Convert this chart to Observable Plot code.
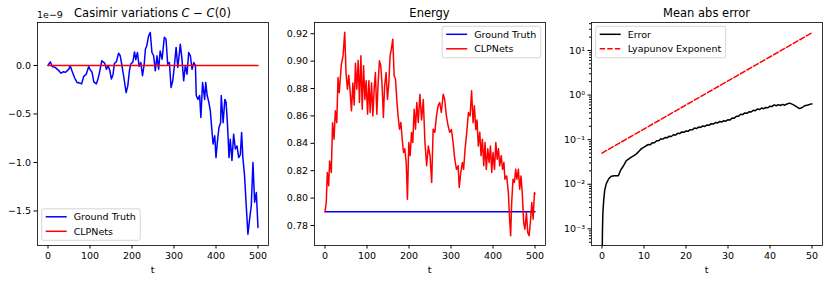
<!DOCTYPE html>
<html><head><meta charset="utf-8">
<script src="https://cdn.jsdelivr.net/npm/d3@7"></script>
<script src="https://cdn.jsdelivr.net/npm/@observablehq/plot@0.6"></script>
<style>
body{margin:0;background:#fff;}
#wrap{display:flex;width:830px;height:282px;overflow:hidden;}
#wrap svg{flex:none;}
</style></head><body><div id="wrap"></div>
<script>
// ---------- Panel 1: Casimir variations (units of 1e-9) ----------
const casimirT = [0,3,5.5,10,17,25,31,36,42,49,53,57,63,69,75,80,85,91,97,100,105,109,115,119,123,128,135,139,143,147,151,155,158,163,168,172,176,180,186,190,194,197,202,206,209,213,217,221,225,229,232,235,239.5,243.5,247.5,251.5,255.5,259.5,263.5,267,271.5,277,281,285,289,293,297,301,305,309,313,315,319,323,327,331,335,339,343,347,351,353,357,361,364,368,373,375.5,379,383,386.5,390,393,397,400,403,407,411,412.5,417,421,424,427.5,431,434,438,442,446,450,454,458,461,464,468,472,476,480,484,488,492,496,500];
const casimirGroundTruth = [0,0.02,0.038,-0.01,-0.02,-0.05,-0.08,-0.065,-0.07,-0.04,-0.005,-0.055,-0.124,-0.175,-0.18,-0.19,-0.113,-0.09,-0.01,-0.04,-0.07,-0.17,-0.19,-0.14,-0.065,0.048,0.024,-0.04,0,-0.05,-0.14,-0.09,0.02,0.04,0.127,0.1,0,-0.106,-0.28,-0.21,-0.05,0.015,0.035,0.14,0.06,0.134,-0.01,0.03,-0.106,0.01,0.17,0.2,0.306,0.34,0.134,0.1,-0.055,0.1,-0.038,0.15,0.065,0.29,0.27,0.013,0.03,-0.227,-0.158,0,0.186,-0.02,0.134,0.22,0.065,-0.158,0,-0.09,0.134,0.1,-0.04,0.03,0,-0.31,-0.35,-0.31,-0.536,-0.175,-0.35,-0.175,-0.31,-0.38,-0.467,-0.656,-0.81,-0.725,-0.95,-0.8,-0.64,-0.59,-0.31,-0.59,-0.35,-0.38,-0.62,-0.95,-0.76,-0.98,-0.71,-0.86,-0.83,-0.95,-0.92,-0.69,-0.95,-1.137,-1.446,-1.74,-1.585,-1.446,-1.0,-1.41,-1.31,-1.67];
const casimirCLPT = [0,500];
const casimirCLPNets = [0,0];
const casimirXTicks = [0,100,200,300,400,500];
const casimirYTicks = [0,-0.5,-1.0,-1.5];

// ---------- Panel 2: Energy ----------
const energyT = [0,3,5.5,8.7,11,15,18,21.5,24.6,28,31,34,39,43,47,50,53.4,56.6,60,63,66.4,69.5,72.5,75.7,79,82,85.5,88.6,91.8,95,98,101.4,104.5,107.6,110.8,114,117,120,123.4,126.5,129.6,132.8,136,139,142,145.5,148.7,152,155,158,161.4,164.6,167.8,171,174,177.4,180.6,183.8,187,190,193.4,196.3,199.5,202.7,206,209,212.3,215.5,218.6,222,226,230,234,238,242,246,250,254,257.5,261.5,265.4,269.4,273,277,281.4,285,289,293,297,301,305,309,313,317,319.6,323,327,330,333.6,337.5,341.5,345.5,349,352.6,355.7,359,362,365,368.5,371.6,374.8,378,381,384,387.6,390.7,394,397,400,403.6,406.7,410,413,416,419.6,422.7,426,428.4,432.5,436.5,439.6,442,444.5,447.6,451,454,457,460.4,463.6,466.7,470,473,476,479.6,482.7,486,489,492.4,495.5,498.7,500];
const energyCLPNets = [0.79,0.7968,0.8187,0.809,0.827,0.8187,0.855,0.843,0.8637,0.855,0.888,0.877,0.8977,0.904,0.921,0.892,0.8795,0.8897,0.877,0.8637,0.884,0.868,0.8985,0.8795,0.9005,0.8698,0.9039,0.8649,0.8966,0.872,0.8856,0.8613,0.8856,0.8625,0.884,0.86,0.8795,0.8917,0.8613,0.884,0.9002,0.8966,0.882,0.8588,0.882,0.8917,0.872,0.884,0.9039,0.9087,0.916,0.8893,0.887,0.872,0.86,0.8503,0.8552,0.843,0.8333,0.836,0.826,0.7992,0.8406,0.831,0.8479,0.8406,0.8649,0.8503,0.8698,0.8552,0.8758,0.857,0.872,0.8406,0.8236,0.838,0.831,0.8114,0.8503,0.848,0.86,0.8674,0.8698,0.8625,0.8758,0.872,0.86,0.853,0.848,0.85,0.8406,0.8284,0.821,0.8236,0.8077,0.818,0.826,0.821,0.836,0.848,0.8625,0.86,0.8783,0.855,0.8674,0.85,0.857,0.838,0.848,0.831,0.843,0.8236,0.8406,0.821,0.836,0.826,0.838,0.8187,0.8333,0.821,0.8406,0.8284,0.836,0.8236,0.831,0.821,0.826,0.8138,0.8162,0.8041,0.7846,0.7725,0.7968,0.8138,0.8114,0.821,0.8138,0.821,0.8065,0.8162,0.8017,0.7822,0.7773,0.7895,0.775,0.7725,0.7822,0.7968,0.7846,0.8041,0.803];
const energyGTT = [0,500];
const energyGroundTruth = [0.79,0.79];
const energyXTicks = [0,100,200,300,400,500];
const energyYTicks = [0.78,0.80,0.82,0.84,0.86,0.88,0.90,0.92];

// ---------- Panel 3: Mean abs error (log) ----------
const errT = [0,0.1,0.2,0.4,0.63,1.0,1.6,2.2,3.0,3.9,4.4,5,5.8,6.4,7,7.6,8.2,8.8,9.4,10.2,11,11.5,12,12.5,13,13.5,14,14.5,15,15.5,16,16.5,17,17.5,18,18.5,19,19.5,20,20.5,21,21.5,22,22.5,23,23.5,24,24.5,25,25.5,26,26.5,27,27.5,28,28.5,29,29.5,30,30.5,31,31.5,32,32.5,33,33.5,34,34.5,35,35.5,36,36.5,37,37.5,38,38.5,39,39.5,40,40.5,41,41.5,42,42.5,43,43.5,44,44.7,45.5,46.3,47,47.6,48.3,49,49.5,50];
const errValues = [0.0001,0.0008,0.0022,0.0043,0.0072,0.0102,0.0133,0.0151,0.0155,0.0155,0.0204,0.025,0.034,0.037,0.0407,0.044,0.048,0.055,0.063,0.07,0.078,0.0774,0.085,0.0855,0.095,0.0945,0.104,0.103,0.112,0.110,0.120,0.118,0.129,0.127,0.139,0.137,0.149,0.146,0.157,0.154,0.168,0.166,0.182,0.178,0.192,0.188,0.203,0.198,0.214,0.210,0.228,0.224,0.243,0.237,0.255,0.248,0.267,0.260,0.280,0.278,0.305,0.304,0.335,0.336,0.372,0.366,0.398,0.390,0.422,0.417,0.456,0.448,0.488,0.475,0.512,0.495,0.530,0.520,0.565,0.556,0.605,0.577,0.61,0.584,0.62,0.594,0.63,0.66,0.61,0.55,0.50,0.52,0.58,0.60,0.62,0.635];
const lyapT = [0,50];
const lyapValues = [0.05,25];
const errXTicks = [0,10,20,30,40,50];
const errYTicks = [1e-3,1e-2,1e-1,1,10];
const errYTickLabels = ["10\u207B\u00B3","10\u207B\u00B2","10\u207B\u00B9","10\u2070","10\u00B9"];
const errYMinor = [5e-4,6e-4,7e-4,8e-4,9e-4,2e-3,3e-3,4e-3,5e-3,6e-3,7e-3,8e-3,9e-3,2e-2,3e-2,4e-2,5e-2,6e-2,7e-2,8e-2,9e-2,0.2,0.3,0.4,0.5,0.6,0.7,0.8,0.9,2,3,4,5,6,7,8,9,20,30,40];

// ---------- layout ----------
const FONT = "DejaVu Sans";
const base = {height:282, marginTop:22, marginBottom:37, marginLeft:37,
  style:{fontFamily:FONT, fontSize:"9.5px", color:"black", background:"white", overflow:"visible"}};
const AX = {tickSize:3.5, tickPadding:3, label:null, stroke:"black"};
const LW = 1.5;

function decorate(svg, opts){
  const s = d3.select(svg);
  const fw = 231, left = 37, top = 22, bottom = 245;
  const cx = left + fw/2;
  // title
  const tt = s.append("text").attr("x", cx).attr("y", 16.5).attr("text-anchor","middle")
    .attr("font-family", FONT).attr("font-size", "11.5px").attr("fill","black");
  opts.title.forEach(p => { const ts = tt.append("tspan").text(p.t); if (p.i) ts.attr("font-style","italic"); });
  // x label
  s.append("text").attr("x", cx).attr("y", 272.5).attr("text-anchor","middle")
    .attr("font-family", FONT).attr("font-size","9.5px").attr("fill","black").text("t");
  if (opts.offset) s.append("text").attr("x", left).attr("y", 18.3).attr("text-anchor","start")
    .attr("font-family", FONT).attr("font-size","9.5px").attr("fill","black").text(opts.offset);
  // legend
  const L = opts.legend;
  const g = s.append("g").attr("text-anchor","start");
  const rect = g.append("rect").attr("rx",2).attr("ry",2).attr("fill","white").attr("fill-opacity",0.8)
    .attr("stroke","#cccccc").attr("stroke-width",0.8);
  let maxw = 0;
  const texts = [];
  L.items.forEach((it,i) => {
    const ln = g.append("line").attr("stroke", it.color).attr("stroke-width", LW);
    if (it.dash) ln.attr("stroke-dasharray", it.dash);
    const tx = g.append("text").attr("text-anchor","start").attr("font-family",FONT).attr("font-size","9.5px")
      .attr("fill","black").attr("dy","0.35em").text(it.label);
    texts.push([ln, tx]);
    maxw = Math.max(maxw, tx.node().getComputedTextLength());
  });
  const w = 32 + maxw + 4.5, h = 31.5;
  const bx = L.pos === "ur" ? left + fw - 4.3 - w : left + 4.7;
  const by = L.pos === "ll" ? bottom - 4.7 - h : top + 4.3;
  rect.attr("x", bx).attr("y", by).attr("width", w).attr("height", h);
  texts.forEach(([ln, tx], i) => {
    const y = by + 8 + i*14.5;
    ln.attr("x1", bx+4).attr("x2", bx+25).attr("y1", y).attr("y2", y);
    tx.attr("x", bx+32).attr("y", y);
  });
}

const wrap = document.getElementById("wrap");

// Panel 1
const p1 = Plot.plot({...base, width:277, marginRight:9,
  x:{domain:[-25,525]}, y:{domain:[-1.856,0.443]},
  marks:[
    Plot.line(casimirGroundTruth, {x:casimirT, y:casimirGroundTruth, stroke:"#0000ff", strokeWidth:LW}),
    Plot.line(casimirCLPNets, {x:casimirCLPT, y:casimirCLPNets, stroke:"#ff0000", strokeWidth:LW}),
    Plot.axisX({...AX, ticks:casimirXTicks, tickFormat:d3.format("d")}),
    Plot.axisY({...AX, ticks:casimirYTicks, tickFormat:d3.format(".1f")}),
    Plot.frame({stroke:"black", strokeWidth:0.8})
  ]});
wrap.appendChild(p1);
decorate(p1, {title:[{t:"Casimir variations "},{t:"C",i:true},{t:" \u2212 "},{t:"C",i:true},{t:"(0)"}],
  offset:"1e\u22129",
  legend:{pos:"ll", items:[{label:"Ground Truth", color:"#0000ff"},{label:"CLPNets", color:"#ff0000"}]}});

// Panel 2
const p2 = Plot.plot({...base, width:277, marginRight:9,
  x:{domain:[-25,525]}, y:{domain:[0.7654,0.9282]},
  marks:[
    Plot.line(energyGroundTruth, {x:energyGTT, y:energyGroundTruth, stroke:"#0000ff", strokeWidth:LW}),
    Plot.line(energyCLPNets, {x:energyT, y:energyCLPNets, stroke:"#ff0000", strokeWidth:LW}),
    Plot.axisX({...AX, ticks:energyXTicks, tickFormat:d3.format("d")}),
    Plot.axisY({...AX, ticks:energyYTicks, tickFormat:d3.format(".2f")}),
    Plot.frame({stroke:"black", strokeWidth:0.8})
  ]});
wrap.appendChild(p2);
decorate(p2, {title:[{t:"Energy"}],
  legend:{pos:"ur", items:[{label:"Ground Truth", color:"#0000ff"},{label:"CLPNets", color:"#ff0000"}]}});

// Panel 3
const p3 = Plot.plot({...base, width:276, marginRight:8,
  x:{domain:[-2.5,52.5]}, y:{type:"log", domain:[4.23e-4, 42.5]},
  marks:[
    Plot.line(errValues, {x:errT, y:errValues, stroke:"black", strokeWidth:LW, clip:true}),
    Plot.line(lyapValues, {x:lyapT, y:lyapValues, stroke:"#ff0000", strokeWidth:LW, strokeDasharray:"5.3,2.3"}),
    Plot.axisX({...AX, ticks:errXTicks, tickFormat:d3.format("d")}),
    Plot.axisY({...AX, ticks:errYTicks, tickFormat:d => errYTickLabels[errYTicks.indexOf(d)]}),
    Plot.axisY({...AX, ticks:errYMinor, tickSize:2, tickFormat:() => ""}),
    Plot.frame({stroke:"black", strokeWidth:0.8})
  ]});
wrap.appendChild(p3);
decorate(p3, {title:[{t:"Mean abs error"}],
  legend:{pos:"ul", items:[{label:"Error", color:"black"},{label:"Lyapunov Exponent", color:"#ff0000", dash:"5.3,2.3"}]}});
</script></body></html>
